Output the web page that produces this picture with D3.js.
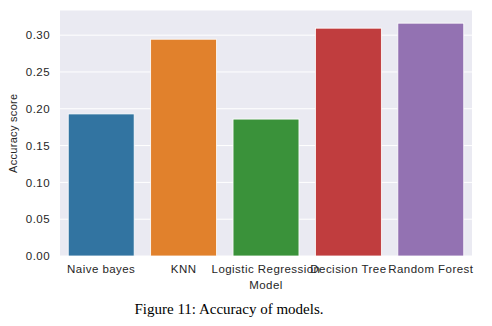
<!DOCTYPE html>
<html><head><meta charset="utf-8">
<script src="https://cdn.jsdelivr.net/npm/d3@7"></script>
<style>body{margin:0;background:#fff;} svg{display:block;}</style>
</head><body>
<svg id="c" width="492" height="326"></svg>
<script>
const categories = ["Naive bayes", "KNN", "Logistic Regression", "Decision Tree", "Random Forest"];
const accuracy = [0.193, 0.2945, 0.186, 0.3095, 0.3163];
const colors = ["#3274a1", "#e1812c", "#3a923a", "#c03d3e", "#9372b2"];
const yTicks = [0.00, 0.05, 0.10, 0.15, 0.20, 0.25, 0.30];
const title = "Figure 11: Accuracy of models.";

const svg = d3.select("#c");
const m = {left: 60, right: 472, top: 10.5, bottom: 256};
const x = d3.scaleBand().domain(categories).range([m.left, m.right]).paddingInner(0.2).paddingOuter(0.1);
const y = d3.scaleLinear().domain([0, 0.3335]).range([m.bottom, m.top]);

svg.append("rect").attr("x", m.left).attr("y", m.top).attr("width", m.right - m.left).attr("height", m.bottom - m.top).attr("fill", "#eaeaf2");

svg.append("g").selectAll("line").data(yTicks).join("line")
  .attr("x1", m.left).attr("x2", m.right)
  .attr("y1", d => y(d)).attr("y2", d => y(d))
  .attr("stroke", "#fff").attr("stroke-width", 1);

svg.append("g").selectAll("rect").data(categories).join("rect")
  .attr("x", d => x(d)).attr("width", x.bandwidth())
  .attr("y", (d, i) => y(accuracy[i])).attr("height", (d, i) => y(0) - y(accuracy[i]))
  .attr("fill", (d, i) => colors[i]).attr("stroke", "#fff").attr("stroke-width", 0.8);

const font = "Liberation Sans, Arial, sans-serif";
const fs = 11.5, ls = 0.45;
const yAxis = d3.axisLeft(y).tickValues(yTicks).tickFormat(d3.format(".2f")).tickSize(0).tickPadding(10);
const gy = svg.append("g").attr("transform", `translate(${m.left},0)`).call(yAxis);
gy.select(".domain").remove();
gy.selectAll("text").attr("font-family", font).attr("font-size", fs).attr("letter-spacing", ls).attr("fill", "#262626");

const xAxis = d3.axisBottom(x).tickSize(0).tickPadding(8.5);
const gx = svg.append("g").attr("transform", `translate(0,${m.bottom})`).call(xAxis);
gx.select(".domain").remove();
gx.selectAll("text").attr("font-family", font).attr("font-size", fs).attr("letter-spacing", ls).attr("fill", "#262626");

svg.append("text").attr("x", (m.left + m.right) / 2).attr("y", 288.5)
  .attr("text-anchor", "middle").attr("font-family", font).attr("font-size", fs).attr("letter-spacing", ls).attr("fill", "#262626").text("Model");
svg.append("text").attr("transform", `translate(17,${(m.top + m.bottom) / 2}) rotate(-90)`)
  .attr("text-anchor", "middle").attr("font-family", font).attr("font-size", 11).attr("letter-spacing", 0.3).attr("fill", "#262626").text("Accuracy score");

svg.append("text").attr("x", 229).attr("y", 314).attr("text-anchor", "middle")
  .attr("font-family", "Liberation Serif, Times New Roman, serif").attr("font-size", 15).attr("fill", "#000").text(title);
</script>
</body></html>
